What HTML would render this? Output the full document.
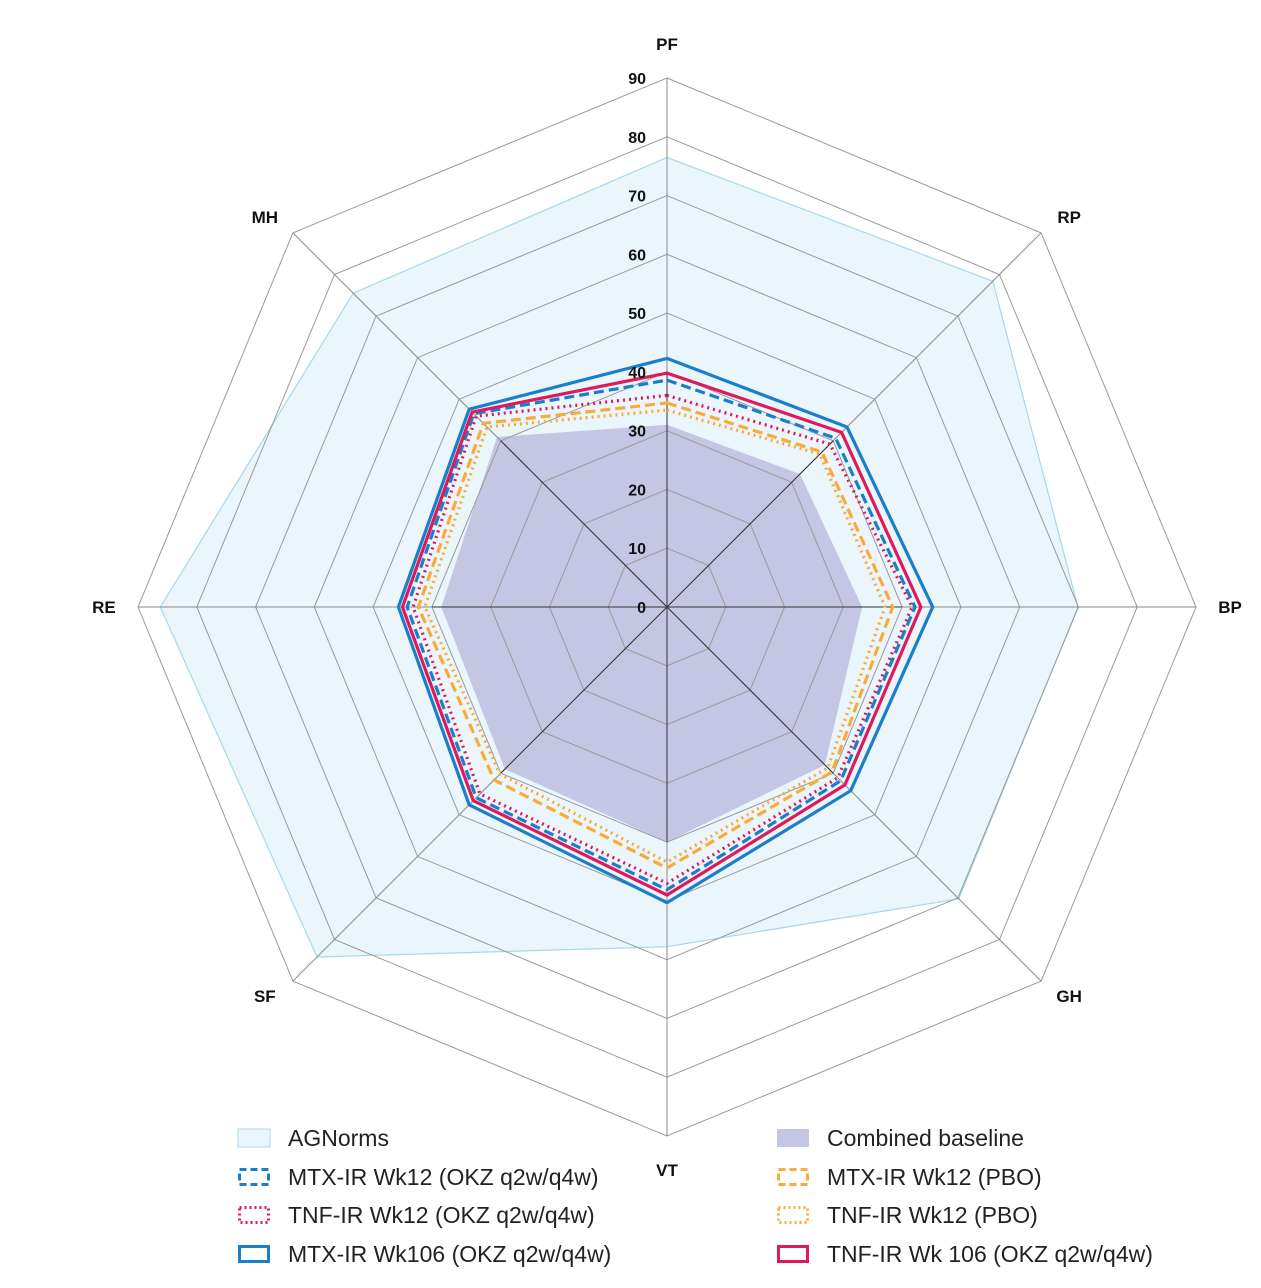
<!DOCTYPE html>
<html><head><meta charset="utf-8"><style>
body{margin:0;background:#fff;}
svg{display:block;font-family:"Liberation Sans",sans-serif;}
</style></head><body>
<svg id="chart" width="1261" height="1288" viewBox="0 0 1261 1288" xmlns="http://www.w3.org/2000/svg"></svg>
<script>
const axes = ["PF","RP","BP","GH","VT","SF","RE","MH"];
const ticks = [0,10,20,30,40,50,60,70,80,90];
const agNorms = [76.5,78.4,69.9,70.2,57.8,84.2,86.2,75.5];
const baseline = [31,32,33.2,38,40,39,38.4,40.9];
const mtxWk12Okz = [38.6,40.6,42.2,41.8,48.1,45.9,44.2,46.5];
const tnfWk12Okz = [36,39.2,41.7,41.1,47,45,43.2,45.9];
const mtxWk106Okz = [42.3,43.3,45.2,44.2,50.3,47.6,45.7,47.6];
const mtxWk12Pbo = [34.7,37.3,38.4,39.7,44.4,41.6,42.3,44.2];
const tnfWk12Pbo = [33.5,36.8,37.1,38.7,43.4,40.2,41.2,43.3];
const tnfWk106Okz = [39.8,42,43.2,42.8,49,46.6,45,46.9];

const svg=document.getElementById('chart');
const NS="http://www.w3.org/2000/svg";
const cx=667, cy=607, maxV=90, R=529;
function rScale(v){return v/maxV*R;}
function pt(i,v){const a=-Math.PI/2+i*Math.PI/4;const r=rScale(v);return [cx+r*Math.cos(a),cy+r*Math.sin(a)];}
function mk(tag,attrs){const e=document.createElementNS(NS,tag);for(const k in attrs)e.setAttribute(k,attrs[k]);svg.appendChild(e);return e;}
function polyPts(vals){return vals.map((v,i)=>pt(i,v).map(n=>n.toFixed(1)).join(',')).join(' ');}

let e=mk('polygon',{points:polyPts(agNorms),fill:'#ebf5fc',stroke:'#a6d9ec','stroke-width':1.2});


e=mk('polygon',{points:polyPts(baseline),fill:'#c5c6e4',stroke:'none'});



ticks.forEach(t=>{if(t===0)return;
  const g=mk('polygon',{points:polyPts(axes.map(()=>t)),fill:'none',stroke:'#9a9a9a','stroke-width':1});
  
  
});
axes.forEach((a,i)=>{
  const p=pt(i,maxV);
  const l=mk('line',{x1:cx,y1:cy,x2:p[0],y2:p[1],stroke:'#8a8a8a','stroke-width':1});
  
  
  const q=pt(i,40);
  const l2=mk('line',{x1:cx,y1:cy,x2:q[0],y2:q[1],stroke:'#333','stroke-width':1});
  
  
});

const series=[
 [tnfWk12Pbo,'#f9ab3a','2,4','tnf-ir-wk12-pbo-line'],
 [mtxWk12Pbo,'#f9ab3a','10,5','mtx-ir-wk12-pbo-line'],
 [tnfWk12Okz,'#e0195a','2,4','tnf-ir-wk12-okz-line'],
 [mtxWk12Okz,'#1a7ec9','10,5','mtx-ir-wk12-okz-line'],
 [tnfWk106Okz,'#e0195a','','tnf-ir-wk106-okz-line'],
 [mtxWk106Okz,'#1a7ec9','','mtx-ir-wk106-okz-line']];
series.forEach(s=>{
  const a={points:polyPts(s[0]),fill:'none',stroke:s[1],'stroke-width':3.2};
  if(s[2])a['stroke-dasharray']=s[2];
  const p=mk('polygon',a);
  
  
});

ticks.forEach(t=>{
  const tx=mk('text',{x:646,y:cy-rScale(t)+6,'text-anchor':'end','font-size':16,'font-weight':'bold',fill:'#111'});
  tx.textContent=t;
  
  
});
axes.forEach((a,i)=>{
  const p=pt(i,95.8);
  let x=p[0], y=p[1]+6;
  if(i%2===1){
    x += (p[0]>cx?4:-4);
    y += (p[1]<cy?8:-9);
  }
  const tx=mk('text',{x:x,y:y,'text-anchor':'middle','font-size':17,'font-weight':'bold',fill:'#111'});
  tx.textContent=a;
  
  
});

const legend=[
 [238,1138,'AGNorms','fillA'],[777,1138,'Combined baseline','fillB'],
 [238,1177,'MTX-IR Wk12 (OKZ q2w/q4w)','#1a7ec9','7,4'],[777,1177,'MTX-IR Wk12 (PBO)','#f9ab3a','7,4'],
 [238,1215,'TNF-IR Wk12 (OKZ q2w/q4w)','#e0195a','2,3'],[777,1215,'TNF-IR Wk12 (PBO)','#f9ab3a','2,3'],
 [238,1254,'MTX-IR Wk106 (OKZ q2w/q4w)','#1a7ec9',''],[777,1254,'TNF-IR Wk 106 (OKZ q2w/q4w)','#e0195a','']];
legend.forEach(L=>{
  let a;
  if(L[3]==='fillA')a={x:L[0],y:L[1]-9,width:32,height:18,fill:'#ebf5fc',stroke:'#a6d9ec','stroke-width':1};
  else if(L[3]==='fillB')a={x:L[0],y:L[1]-9,width:32,height:18,fill:'#c5c6e4',stroke:'none'};
  else {a={x:L[0]+1.5,y:L[1]-7.5,width:29,height:15,fill:'none',stroke:L[3],'stroke-width':3};if(L[4])a['stroke-dasharray']=L[4];}
  const r=mk('rect',a);
  const nm=L[2].toLowerCase().replace(/[^a-z0-9]+/g,'-').replace(/-$/,'');
  
  
  const t=mk('text',{x:L[0]+50,y:L[1]+8,'font-size':23,fill:'#222'});
  t.textContent=L[2];
  
  
});
</script>
</body></html>
